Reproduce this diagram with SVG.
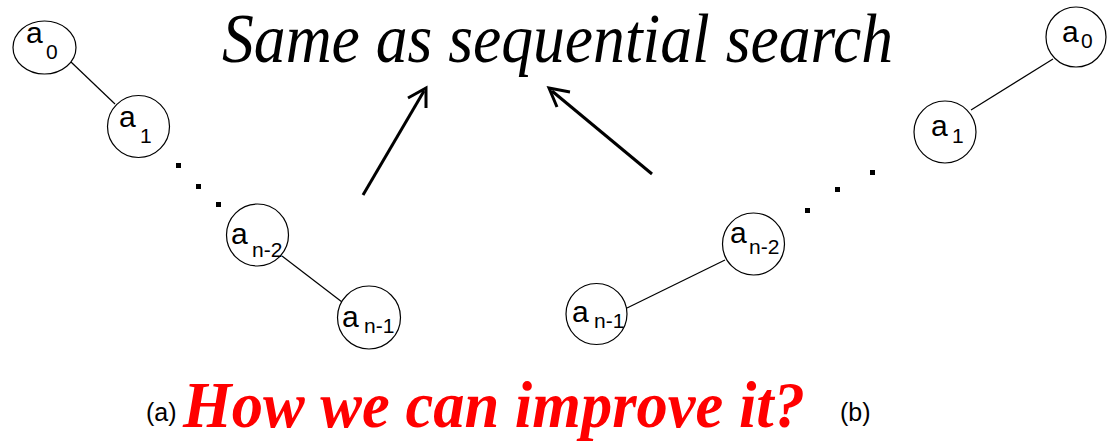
<svg xmlns="http://www.w3.org/2000/svg" width="1109" height="444" viewBox="0 0 1109 444">
<defs>
<style>
.node{fill:#fff;stroke:#000;stroke-width:1.2}
.edge{stroke:#000;stroke-width:1.2;fill:none}
.arrow{stroke:#000;stroke-width:3;fill:none}
.lbl{font-family:"Liberation Sans",Arial,sans-serif;font-size:30px;fill:#000}
.sub{font-size:21px}
.dot{fill:#000}
.title{font-family:"Liberation Serif","Times New Roman",serif;font-style:italic;font-size:70px;fill:#000}
.q{font-family:"Liberation Serif","Times New Roman",serif;font-style:italic;font-weight:bold;font-size:66px;fill:#ff0000}
.cap{font-family:"Liberation Sans",Arial,sans-serif;font-size:25px;fill:#000}
</style>
</defs>
<g id="connectors">
<line class="edge" x1="71" y1="62" x2="115" y2="104"/>
<line class="edge" x1="282" y1="256" x2="342" y2="302"/>
<line class="edge" x1="1053" y1="59" x2="971" y2="110"/>
<line class="edge" x1="725" y1="260" x2="627" y2="308"/>
<line class="arrow" x1="363" y1="195" x2="424" y2="91"/>
<path class="arrow" d="M408,98 L426,88 L426,108"/>
<line class="arrow" x1="652" y1="174" x2="552" y2="91"/>
<path class="arrow" d="M570,92 L549,88 L557,107"/>
</g>
<g id="dots-left">
<rect class="dot" x="176" y="163" width="5" height="5"/>
<rect class="dot" x="196" y="184" width="5" height="5"/>
<rect class="dot" x="216" y="202" width="5" height="5"/>
</g>
<g id="dots-right">
<rect class="dot" x="870" y="170" width="5" height="5"/>
<rect class="dot" x="835" y="187" width="5" height="5"/>
<rect class="dot" x="805" y="208" width="5" height="5"/>
</g>
<g id="L-a0"><ellipse class="node" cx="44.5" cy="47.5" rx="31.5" ry="26.5"/><text class="lbl" x="26" y="43">a<tspan class="sub" x="46" y="59">0</tspan></text></g>
<g id="L-a1"><circle class="node" cx="138.5" cy="126.5" r="31"/><text class="lbl" x="119" y="127">a<tspan class="sub" x="140" y="143">1</tspan></text></g>
<g id="L-an2"><circle class="node" cx="257.5" cy="235" r="31"/><text class="lbl" x="231" y="244">a<tspan class="sub" x="252" y="257">n-2</tspan></text></g>
<g id="L-an1"><circle class="node" cx="369" cy="317.5" r="31.5"/><text class="lbl" x="342" y="327">a<tspan class="sub" x="364" y="333">n-1</tspan></text></g>
<g id="R-a0"><circle class="node" cx="1076" cy="37" r="30"/><text class="lbl" x="1062" y="42">a<tspan class="sub" x="1081" y="48">0</tspan></text></g>
<g id="R-a1"><circle class="node" cx="945" cy="132" r="31"/><text class="lbl" x="931" y="136">a<tspan class="sub" x="952" y="143">1</tspan></text></g>
<g id="R-an2"><circle class="node" cx="753.5" cy="244" r="31"/><text class="lbl" x="730" y="243">a<tspan class="sub" x="749" y="254">n-2</tspan></text></g>
<g id="R-an1"><circle class="node" cx="596.5" cy="314" r="30.5"/><text class="lbl" x="572" y="322">a<tspan class="sub" x="594" y="328">n-1</tspan></text></g>
<text class="title" x="222" y="62" textLength="671" lengthAdjust="spacingAndGlyphs">Same as sequential search</text>
<text class="cap" x="146" y="421">(a)</text>
<text class="q" x="183" y="427" textLength="622" lengthAdjust="spacingAndGlyphs">How we can improve it?</text>
<text class="cap" x="840" y="421">(b)</text>
</svg>
